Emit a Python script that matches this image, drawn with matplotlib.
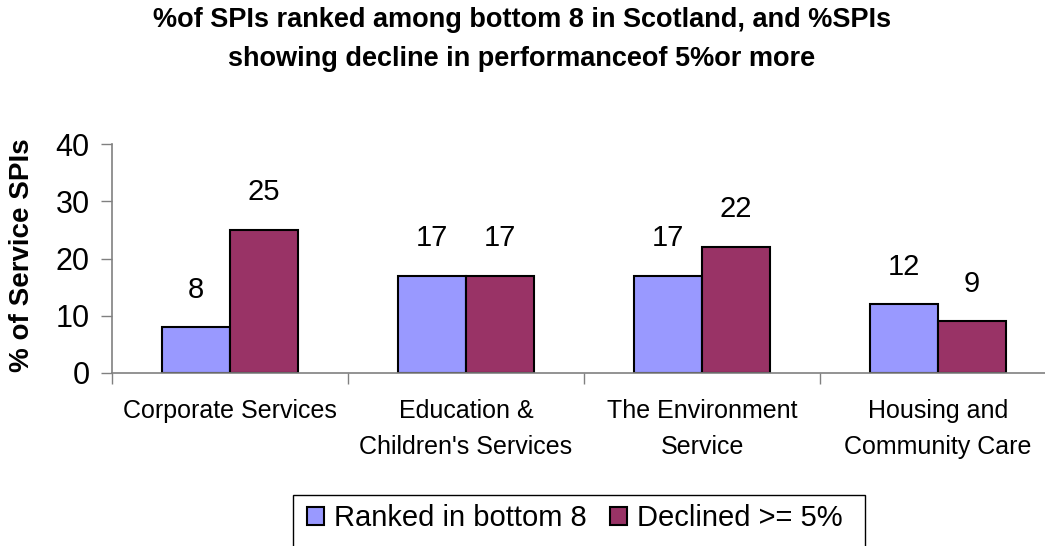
import numpy as np
import matplotlib
matplotlib.use("Agg")
import matplotlib.pyplot as plt
from matplotlib.patches import Rectangle

# data
categories = ["Corporate Services", "Education &\nChildren's Services",
              "The Environment\nService", "Housing and\nCommunity Care"]
ranked_bottom8 = [8, 17, 17, 12]
declined_5pct = [25, 17, 22, 9]
series_names = ["Ranked in bottom 8", "Declined >= 5%"]
y_ticks = [0, 10, 20, 30, 40]

plt.rcParams['font.family'] = ['Liberation Sans', 'DejaVu Sans']

W, H = 1045, 546
fig = plt.figure(figsize=(W / 100, H / 100), dpi=100)
fig.patch.set_facecolor('white')

# plot area in pixels: left 112, y=0 at 373, y=40 at 144, category width ~236
ax = fig.add_axes([112 / W, (H - 373) / H, 944 / W, 229 / H])

x = np.arange(len(categories))
bw = 0.288
b1 = ax.bar(x - bw / 2, ranked_bottom8, bw, color='#9999FF', edgecolor='black',
            linewidth=1.5, label=series_names[0])
b2 = ax.bar(x + bw / 2, declined_5pct, bw, color='#993366', edgecolor='black',
            linewidth=1.5, label=series_names[1])
ax.bar_label(b1, padding=17, fontsize=21)
ax.bar_label(b2, padding=17, fontsize=21)

ax.set_xlim(-0.5, len(categories) - 0.5)
ax.set_ylim(0, 40)
ax.set_yticks(y_ticks)
ax.tick_params(axis='y', labelsize=22, length=8, width=1, color='#808080', pad=8)

ax.set_xticks(x)
ax.set_xticklabels(categories, fontsize=18, linespacing=1.6)
ax.tick_params(axis='x', which='major', length=0, pad=19)
ax.set_xticks(np.arange(-0.5, len(categories)), minor=True)
ax.tick_params(axis='x', which='minor', length=8, width=1, color='#808080')

for s in ['top', 'right']:
    ax.spines[s].set_visible(False)
for s in ['left', 'bottom']:
    ax.spines[s].set_color('#808080')
    ax.spines[s].set_linewidth(1.2)

fig.text(22 / W, 1 - 255 / H, '% of Service SPIs', rotation=90, ha='center',
         va='center', fontsize=20, fontweight='bold')

fig.text(522 / W, 1 - 27 / H, '%of SPIs ranked among bottom 8 in Scotland, and %SPIs',
         ha='center', va='baseline', fontsize=19.5, fontweight='bold')
fig.text(522 / W, 1 - 66 / H, 'showing decline in performanceof 5%or more',
         ha='center', va='baseline', fontsize=19.5, fontweight='bold')

# legend box runs off the bottom edge like the original
fig.patches.append(Rectangle((293 / W, -0.05), 572 / W, 1 - 495 / H + 0.05,
                             transform=fig.transFigure, facecolor='white',
                             edgecolor='black', linewidth=1, zorder=0))
fig.legend(handles=[b1, b2], labels=series_names, loc='center',
           bbox_to_anchor=(575 / W, 1 - 518 / H), ncol=2, frameon=False,
           fontsize=21, handlelength=0.58, handleheight=0.58,
           handletextpad=0.34, columnspacing=0.8)

fig.savefig('out.png', dpi=100)
